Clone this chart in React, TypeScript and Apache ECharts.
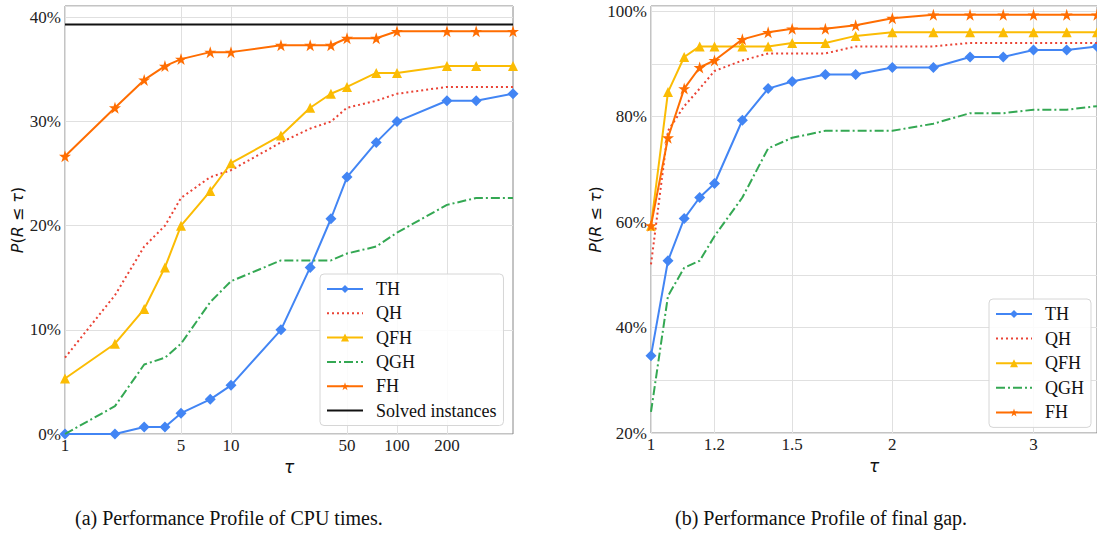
import React, { useEffect, useRef } from 'react';
import * as echarts from 'echarts';

// ---------- (a) CPU times ----------
const tauCpu = [1, 2, 3, 4, 5, 7.5, 10, 20, 30, 40, 50, 75, 100, 200, 300, 500];
const cpuTH = [0, 0, 0.67, 0.67, 2, 3.33, 4.67, 10, 16, 20.67, 24.67, 28, 30, 32, 32, 32.67];
const cpuQH = [7.33, 13.33, 18, 20, 22.67, 24.67, 25.33, 28, 29.33, 30, 31.33, 32, 32.67, 33.33, 33.33, 33.33];
const cpuQFH = [5.33, 8.67, 12, 16, 20, 23.33, 26, 28.67, 31.33, 32.67, 33.33, 34.67, 34.67, 35.33, 35.33, 35.33];
const cpuQGH = [0, 2.67, 6.67, 7.33, 8.67, 12.67, 14.67, 16.67, 16.67, 16.67, 17.33, 18, 19.33, 22, 22.67, 22.67];
const cpuFH = [26.67, 31.33, 34, 35.33, 36, 36.67, 36.67, 37.33, 37.33, 37.33, 38, 38, 38.67, 38.67, 38.67, 38.67];
const solvedInstances = 39.33;
const cpuTicks = [1, 5, 10, 50, 100, 200];

// ---------- (b) final gap ----------
const tauGap = [1, 1.05, 1.1, 1.15, 1.2, 1.3, 1.4, 1.5, 1.65, 1.8, 2, 2.25, 2.5, 2.75, 3, 3.3, 3.6];
const gapTH = [34.67, 52.67, 60.67, 64.67, 67.33, 79.33, 85.33, 86.67, 88, 88, 89.33, 89.33, 91.33, 91.33, 92.67, 92.67, 93.33];
const gapQH = [52, 77.33, 82, 85.33, 88.67, 90.67, 92, 92, 92, 93.33, 93.33, 93.33, 94, 94, 94, 94, 94];
const gapQFH = [59.33, 84.67, 91.33, 93.33, 93.33, 93.33, 93.33, 94, 94, 95.33, 96, 96, 96, 96, 96, 96, 96];
const gapQGH = [24, 46, 51.33, 52.67, 57.33, 64.67, 74, 76, 77.33, 77.33, 77.33, 78.67, 80.67, 80.67, 81.33, 81.33, 82];
const gapFH = [59.33, 76, 85.33, 89.33, 90.67, 94.67, 96, 96.67, 96.67, 97.33, 98.67, 99.33, 99.33, 99.33, 99.33, 99.33, 99.33];
const gapTicks = [1, 1.2, 1.5, 2, 3];

const captionA = '(a) Performance Profile of CPU times.';
const captionB = '(b) Performance Profile of final gap.';

const STAR = 'path://M50,0L61.2,34.5L97.6,34.5L68.2,55.9L79.4,90.5L50,69.1L20.6,90.5L31.8,55.9L2.4,34.5L38.8,34.5Z';

const STYLE: Record<string, any> = {
  TH: { color: '#4285F4', symbol: 'diamond', symbolSize: 11, type: 'solid' },
  QH: { color: '#EA4335', symbol: 'none', symbolSize: 0, type: [2, 3] },
  QFH: { color: '#FBBC04', symbol: 'triangle', symbolSize: 10, type: 'solid' },
  QGH: { color: '#34A853', symbol: 'none', symbolSize: 0, type: [9, 3, 2, 3] },
  FH: { color: '#FF6D01', symbol: STAR, symbolSize: 12, type: 'solid' },
  'Solved instances': { color: '#111111', symbol: 'none', symbolSize: 0, type: 'solid' },
};

const SERIF = '"Liberation Serif", "DejaVu Serif", serif';
const SANS = '"DejaVu Sans", sans-serif';

function mk(name: string, tau: number[], vals: number[], gi: number, z: number) {
  const s = STYLE[name];
  const noSym = s.symbol === 'none';
  return {
    name,
    type: 'line',
    xAxisIndex: gi,
    yAxisIndex: gi,
    data: tau.map((t, i) => [t, vals[i]]),
    symbol: s.symbol,
    symbolSize: s.symbolSize,
    showSymbol: !noSym,
    lineStyle: { color: s.color, width: 2, type: s.type },
    itemStyle: { color: s.color, opacity: noSym ? 0 : 1 },
    z,
    silent: true,
  };
}

function xAxisCfg(gi: number, ticks: number[], min: number, max: number) {
  return {
    gridIndex: gi,
    type: 'log',
    logBase: 10,
    min,
    max,
    name: 'τ',
    nameLocation: 'middle',
    nameGap: 16,
    nameTextStyle: { fontFamily: SANS, fontStyle: 'italic', fontSize: 17, color: '#111' },
    axisLine: { show: false },
    axisTick: { show: false, customValues: ticks },
    axisLabel: {
      customValues: ticks,
      margin: 3,
      fontFamily: SERIF,
      fontSize: 17,
      color: '#222',
      formatter: (v: number) => String(v),
    },
    splitLine: { show: true, lineStyle: { color: '#e0e0e0', width: 1 } },
  };
}

function yAxisCfg(gi: number, min: number, max: number, every: number, gap: number) {
  return {
    gridIndex: gi,
    type: 'value',
    min,
    max,
    interval: 10,
    name: '{i|P}(' + '{i|R} ≤ {i|τ})',
    nameLocation: 'middle',
    nameGap: gap,
    nameTextStyle: {
      fontFamily: SANS,
      fontSize: 16,
      color: '#111',
      rich: { i: { fontFamily: SANS, fontStyle: 'italic', fontSize: 16, color: '#111' } },
    },
    axisLine: { show: false },
    axisTick: { show: false },
    axisLabel: {
      margin: 4,
      fontFamily: SERIF,
      fontSize: 17,
      color: '#222',
      formatter: (v: number) => (Math.abs(v % every) < 1e-6 ? v + '%' : ''),
    },
    splitLine: { show: true, lineStyle: { color: '#e0e0e0', width: 1 } },
  };
}

function legendCfg(left: number, top: number, names: string[], gap: number) {
  return {
    orient: 'vertical',
    left,
    top,
    data: names,
    itemWidth: 36,
    itemHeight: 10,
    itemGap: gap,
    padding: [6, 7, 6, 6],
    backgroundColor: 'rgba(255,255,255,0.85)',
    borderColor: '#d6d6d6',
    borderWidth: 1,
    borderRadius: 4,
    selectedMode: false,
    textStyle: { fontFamily: SERIF, fontSize: 18, color: '#111', padding: [0, 0, 0, 8] },
  };
}

export default function App() {
  const ref = useRef<HTMLDivElement>(null);
  useEffect(() => {
    if (!ref.current) return;
    const chart = echarts.init(ref.current, undefined, { renderer: 'svg' });
    const solvedTau = [tauCpu[0], tauCpu[tauCpu.length - 1]];
    const solvedData = solvedTau.map(() => solvedInstances);
    chart.setOption({
      animation: false,
      backgroundColor: '#ffffff',
      grid: [
        { left: 65, top: 6, width: 448, height: 428, show: true, borderColor: '#888', borderWidth: 1, backgroundColor: 'transparent' },
        { left: 651, top: 6, width: 448, height: 427, show: true, borderColor: '#888', borderWidth: 1, backgroundColor: 'transparent' },
      ],
      xAxis: [
        xAxisCfg(0, cpuTicks, tauCpu[0], tauCpu[tauCpu.length - 1]),
        xAxisCfg(1, gapTicks, tauGap[0], tauGap[tauGap.length - 1]),
      ],
      yAxis: [yAxisCfg(0, 0, 41.1, 10, 37), yAxisCfg(1, 20, 101, 20, 47)],
      legend: [
        legendCfg(320, 274, ['TH', 'QH', 'QFH', 'QGH', 'FH', 'Solved instances'], 6.3),
        legendCfg(989, 299, ['TH', 'QH', 'QFH', 'QGH', 'FH'], 6.6),
      ],
      series: [
        mk('TH', tauCpu, cpuTH, 0, 2),
        mk('QH', tauCpu, cpuQH, 0, 3),
        mk('QFH', tauCpu, cpuQFH, 0, 4),
        mk('QGH', tauCpu, cpuQGH, 0, 5),
        mk('FH', tauCpu, cpuFH, 0, 6),
        mk('Solved instances', solvedTau, solvedData, 0, 7),
        mk('TH', tauGap, gapTH, 1, 2),
        mk('QH', tauGap, gapQH, 1, 3),
        mk('QFH', tauGap, gapQFH, 1, 4),
        mk('QGH', tauGap, gapQGH, 1, 5),
        mk('FH', tauGap, gapFH, 1, 6),
      ],
      graphic: [
        { type: 'text', left: 75, top: 508, style: { text: captionA, font: '20px "Liberation Serif"', fill: '#111' } },
        { type: 'text', left: 675, top: 508, style: { text: captionB, font: '20px "Liberation Serif"', fill: '#111' } },
      ],
    });
    return () => chart.dispose();
  }, []);
  return <div ref={ref} style={{ position: 'absolute', left: 0, top: 0, width: 1097, height: 538 }} />;
}
